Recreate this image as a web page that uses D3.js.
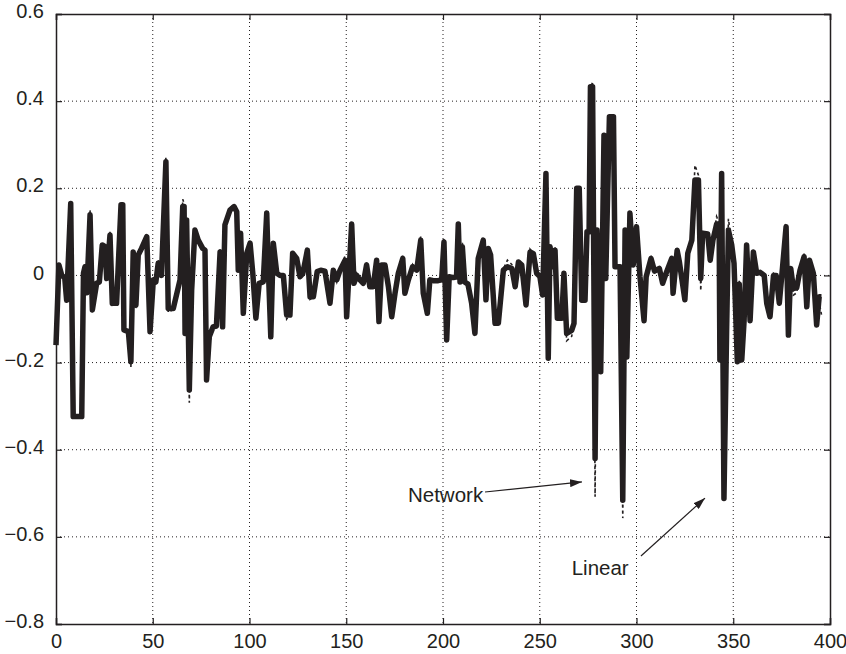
<!DOCTYPE html>
<html>
<head>
<meta charset="utf-8">
<script src="https://cdn.jsdelivr.net/npm/d3@7"></script>
<style>
  html, body { margin: 0; padding: 0; background: #fff; }
  svg { display: block; }
  text { font-family: "Liberation Sans", Arial, Helvetica, sans-serif; fill: #231f20; }
</style>
</head>
<body>
<svg id="chart" width="846" height="654"></svg>
<script>
// Sample positions (time index) shared by both series
const sampleX = [
  0, 1.5, 3, 4.5, 5.5, 7.6, 8.9, 13.3, 14.2, 15.0, 15.9, 17.6, 18.8, 21.0, 22.4, 23.9, 25.3, 26.2, 27.9, 29.1,
  31.3, 33.6, 34.5, 35.1, 37.4, 38.7, 39.9, 41.3, 42.5, 44.2, 46.9, 48.6, 50.3, 51.6, 52.8, 54.5, 56.8, 58.0, 60.6, 64.1,
  65.5, 66.2, 66.7, 67.5, 68.9, 70.1, 71.8, 73.5, 75.8, 77.0, 77.8, 79.2, 81.2, 82.9, 84.8, 86.1, 87.3, 89.9, 92.0, 93.4,
  94.2, 95.4, 96.8, 98.6, 100.3, 101.7, 103.3, 105.0, 107.1, 108.9, 109.7, 111.0, 112.3, 114.1, 115.8, 117.5, 119.2, 120.9, 122.3, 124.4,
  126.1, 127.5, 129.9, 131.3, 133.0, 135.0, 136.8, 139.0, 141.6, 143.3, 145.1, 146.8, 149.4, 150.2, 152.8, 154.0, 155.4, 157.1, 158.8, 160.5,
  162.2, 163.9, 165.7, 166.9, 168.3, 170.0, 171.8, 173.5, 175.2, 176.9, 179.2, 180.3, 182.1, 184.3, 186.4, 188.5, 189.8, 191.9, 193.2, 194.9,
  197.5, 199.3, 200.5, 201.9, 203.2, 205.3, 207.0, 207.9, 208.8, 210.0, 211.2, 212.9, 214.8, 216.5, 218.2, 220.8, 222.2, 223.4, 224.6, 226.9,
  228.6, 231.2, 233.3, 235.6, 237.3, 239.0, 240.7, 242.9, 245.0, 246.7, 248.4, 250.1, 251.5, 253.2, 254.4, 255.3, 256.7, 257.9, 259.1, 261.4,
  262.5, 263.9, 266.5, 267.7, 269.1, 270.4, 271.7, 273.4, 274.4, 275.5, 276.2, 277.3, 278.6, 279.6, 281.5, 283.2, 284.1, 286.0, 288.1, 288.9,
  291.5, 292.9, 294.1, 295.0, 296.6, 298.3, 300.0, 301.8, 303.9, 305.0, 307.5, 309.3, 311.8, 313.5, 315.3, 318.2, 318.9, 321.0, 322.2, 325.0,
  326.5, 328.6, 330.2, 332.0, 333.2, 334.2, 336.8, 338.1, 339.5, 341.4, 342.7, 343.1, 344.0, 345.2, 346.6, 347.5, 349.2, 350.4, 352.1, 353.1,
  354.4, 355.6, 356.9, 358.7, 360.4, 362.1, 363.9, 366.0, 367.3, 369.0, 370.8, 372.2, 373.8, 375.5, 377.3, 378.5, 379.7, 381.1, 382.8, 384.5,
  386.6, 388.0, 389.4, 391.4, 393.1, 394.4, 395.6
];

// Linear model output (thick solid line)
const linearY = [
  -0.16, 0.024, 0.0, -0.005, -0.057, 0.165, -0.324, -0.324, 0.005, 0.02, -0.04, 0.139, -0.079, -0.018, -0.015, 0.07, 0.066, -0.007, 0.093, -0.064,
  -0.064, 0.162, 0.162, -0.125, -0.129, -0.198, 0.054, -0.068, 0.047, 0.062, 0.089, -0.129, -0.01, -0.015, 0.028, 0.0, 0.261, -0.076, -0.076, -0.01,
  0.158, 0.158, -0.133, 0.127, -0.263, -0.034, 0.104, 0.081, 0.062, 0.058, -0.24, -0.141, -0.118, -0.116, 0.054, -0.118, 0.116, 0.15, 0.158, 0.146,
  0.012, 0.097, -0.087, 0.051, 0.074, 0.005, -0.098, -0.018, -0.015, 0.143, 0.02, -0.141, 0.074, 0.005, 0.0, 0.0, -0.091, -0.091, 0.051, 0.039,
  -0.003, 0.004, 0.058, -0.049, -0.049, 0.009, 0.012, 0.01, -0.064, 0.012, -0.01, 0.012, 0.035, -0.095, 0.118, -0.018, 0.0, -0.01, -0.018, 0.024,
  -0.026, -0.026, 0.035, -0.106, 0.024, 0.024, -0.026, -0.095, -0.041, 0.005, 0.039, -0.041, -0.01, 0.02, 0.012, 0.081, -0.041, -0.087, -0.01, -0.012,
  -0.012, -0.01, 0.077, -0.148, -0.003, -0.005, -0.003, 0.118, -0.015, 0.066, -0.015, -0.02, -0.064, -0.133, 0.039, 0.081, -0.056, 0.062, 0.047, -0.11,
  -0.11, 0.012, 0.02, 0.016, -0.026, 0.031, 0.024, -0.068, 0.054, 0.05, 0.005, -0.003, -0.045, 0.234, -0.19, 0.066, 0.02, 0.058, -0.098, -0.098,
  0.005, -0.133, -0.126, -0.11, 0.2, 0.2, -0.057, -0.057, 0.1, 0.1, 0.433, 0.433, -0.42, 0.104, -0.221, 0.322, -0.007, 0.364, 0.364, 0.02,
  0.02, -0.516, 0.104, -0.187, 0.143, 0.024, 0.112, -0.003, -0.104, -0.003, 0.039, 0.01, 0.016, -0.018, 0.005, 0.039, -0.041, 0.058, 0.03, -0.056,
  0.051, 0.081, 0.219, 0.219, -0.007, 0.097, 0.095, 0.035, 0.081, 0.118, 0.118, -0.194, 0.234, -0.512, -0.118, 0.104, 0.07, 0.028, -0.198, -0.02,
  -0.194, -0.104, 0.07, -0.104, 0.054, 0.005, 0.007, 0.0, -0.064, -0.095, 0.0, 0.0, -0.064, 0.02, 0.112, -0.137, 0.016, -0.03, -0.028, 0.012,
  0.043, -0.072, 0.035, 0.005, -0.114, -0.049, -0.049
];

// Network model output (thin dashed line)
const networkY = [
  -0.15, 0.018, 0.005, 0.0, -0.05, 0.16, -0.32, -0.32, 0.0, 0.025, -0.035, 0.15, -0.085, -0.02, -0.01, 0.075, 0.06, -0.01, 0.1, -0.072,
  -0.06, 0.158, 0.16, -0.12, -0.135, -0.21, 0.05, -0.075, 0.05, 0.07, 0.095, -0.125, -0.012, -0.015, 0.035, 0.005, 0.272, -0.085, -0.078, -0.01,
  0.175, 0.165, -0.13, 0.12, -0.292, -0.03, 0.1, 0.085, 0.06, 0.055, -0.235, -0.165, -0.115, -0.11, 0.06, -0.115, 0.11, 0.155, 0.162, 0.14,
  0.02, 0.09, -0.09, 0.045, 0.08, 0.0, -0.095, -0.02, -0.01, 0.14, 0.03, -0.135, 0.07, 0.01, 0.0, 0.005, -0.1, -0.09, 0.048, 0.04,
  0.0, 0.01, 0.062, -0.055, -0.05, 0.01, 0.015, 0.012, -0.06, 0.01, -0.015, 0.015, 0.045, -0.1, 0.115, -0.02, 0.005, -0.01, -0.02, 0.03,
  -0.02, -0.025, 0.04, -0.1, 0.02, 0.025, -0.02, -0.09, -0.045, 0.0, 0.045, -0.04, -0.012, 0.025, 0.01, 0.09, -0.04, -0.085, -0.012, -0.01,
  -0.012, -0.01, 0.085, -0.145, 0.0, -0.005, 0.0, 0.11, -0.01, 0.075, -0.01, -0.02, -0.06, -0.13, 0.04, 0.085, -0.05, 0.06, 0.045, -0.11,
  -0.105, 0.015, 0.035, 0.025, -0.02, 0.035, 0.02, -0.065, 0.06, 0.05, 0.01, -0.005, -0.04, 0.225, -0.18, 0.07, 0.025, 0.065, -0.095, -0.1,
  0.01, -0.15, -0.14, -0.11, 0.195, 0.2, -0.06, -0.055, 0.1, 0.105, 0.442, 0.44, -0.508, 0.1, -0.2, 0.29, -0.01, 0.36, 0.362, 0.025,
  0.02, -0.557, 0.09, -0.18, 0.145, 0.02, 0.11, -0.005, -0.1, 0.0, 0.045, 0.015, 0.01, -0.015, 0.01, 0.04, -0.04, 0.062, 0.03, -0.055,
  0.05, 0.085, 0.253, 0.23, -0.035, 0.09, 0.095, 0.03, 0.08, 0.135, 0.12, -0.19, 0.2, -0.505, -0.11, 0.13, 0.075, 0.03, -0.19, -0.01,
  -0.19, -0.1, 0.065, -0.1, 0.05, 0.01, 0.005, 0.0, -0.06, -0.09, 0.005, 0.0, -0.07, 0.025, 0.105, -0.13, 0.01, -0.045, -0.04, 0.01,
  0.05, -0.07, 0.03, 0.0, -0.11, -0.06, -0.09
];

// Axis ticks
const xTicks = [0, 50, 100, 150, 200, 250, 300, 350, 400];
const yTicks = [-0.8, -0.6, -0.4, -0.2, 0, 0.2, 0.4, 0.6];

// Annotations (data units): label position, arrow tail, arrow tip
const annotations = [
  { text: "Network", at: [181.9, -0.519], tail: [221.7, -0.497], tip: [271.8, -0.474] },
  { text: "Linear",  at: [266.5, -0.688], tail: [302.3, -0.644], tip: [335.4, -0.511] }
];

const ink = "#231f20";
const svg = d3.select("#chart");
const m = { left: 56, top: 14, right: 830, bottom: 624 };

const x = d3.scaleLinear().domain([0, 400]).range([m.left, m.right]);
const y = d3.scaleLinear().domain([-0.8, 0.6]).range([m.bottom, m.top]);

// Dotted grid
const grid = svg.append("g").attr("stroke", ink).attr("stroke-width", 1)
  .attr("stroke-dasharray", "1,3");
grid.selectAll("line.gx").data(xTicks.slice(1, -1)).join("line")
  .attr("x1", d => x(d)).attr("x2", d => x(d))
  .attr("y1", m.top).attr("y2", m.bottom);
grid.selectAll("line.gy").data(yTicks.slice(1, -1)).join("line")
  .attr("y1", d => y(d)).attr("y2", d => y(d))
  .attr("x1", m.left).attr("x2", m.right);

// Series
const pts = (ys) => sampleX.map((v, i) => [v, ys[i]]);
const line = d3.line().x(d => x(d[0])).y(d => y(d[1]));

svg.append("path").datum(pts(networkY))
  .attr("d", line).attr("fill", "none").attr("stroke", ink)
  .attr("stroke-width", 1.6).attr("stroke-dasharray", "3,3");

svg.append("path").datum(pts(linearY))
  .attr("d", line).attr("fill", "none").attr("stroke", ink)
  .attr("stroke-width", 5.5).attr("stroke-linejoin", "round").attr("stroke-linecap", "butt");

// Axes with inward ticks on all four sides
const tickLen = 6;
const fmtY = d => d === 0 ? "0" : d3.format(".1f")(d).replace("-", "\u2212");

const xB = svg.append("g").attr("transform", `translate(0,${m.bottom})`)
  .call(d3.axisBottom(x).tickValues(xTicks).tickSize(-tickLen).tickPadding(10).tickFormat(d3.format("d")));
const xT = svg.append("g").attr("transform", `translate(0,${m.top})`)
  .call(d3.axisTop(x).tickValues(xTicks).tickSize(-tickLen).tickFormat(""));
const yL = svg.append("g").attr("transform", `translate(${m.left},0)`)
  .call(d3.axisLeft(y).tickValues(yTicks).tickSize(-tickLen).tickPadding(12).tickFormat(fmtY));
const yR = svg.append("g").attr("transform", `translate(${m.right},0)`)
  .call(d3.axisRight(y).tickValues(yTicks).tickSize(-tickLen).tickFormat(""));

[xB, xT, yL, yR].forEach(g => {
  g.select(".domain").attr("stroke", ink).attr("stroke-width", 1.5);
  g.selectAll(".tick line").attr("stroke", ink).attr("stroke-width", 1.2);
  g.selectAll("text").attr("font-family", "Liberation Sans, Arial, sans-serif")
    .attr("font-size", 20).attr("fill", ink);
});
xB.selectAll("text").attr("dy", "0.68em");
yL.selectAll("text").attr("dy", "0.18em");

// Annotation labels and arrows
svg.append("defs").append("marker")
  .attr("id", "arrowhead").attr("viewBox", "0 0 12 8")
  .attr("refX", 12).attr("refY", 4).attr("markerWidth", 12).attr("markerHeight", 8)
  .attr("markerUnits", "userSpaceOnUse").attr("orient", "auto")
  .append("path").attr("d", "M0,0 L12,4 L0,8 Z").attr("fill", ink);

const ann = svg.append("g");
ann.selectAll("line").data(annotations).join("line")
  .attr("x1", d => x(d.tail[0])).attr("y1", d => y(d.tail[1]))
  .attr("x2", d => x(d.tip[0])).attr("y2", d => y(d.tip[1]))
  .attr("stroke", ink).attr("stroke-width", 1.2).attr("marker-end", "url(#arrowhead)");
ann.selectAll("text").data(annotations).join("text")
  .attr("x", d => x(d.at[0])).attr("y", d => y(d.at[1]))
  .attr("font-size", 20.5).text(d => d.text);
</script>
</body>
</html>
